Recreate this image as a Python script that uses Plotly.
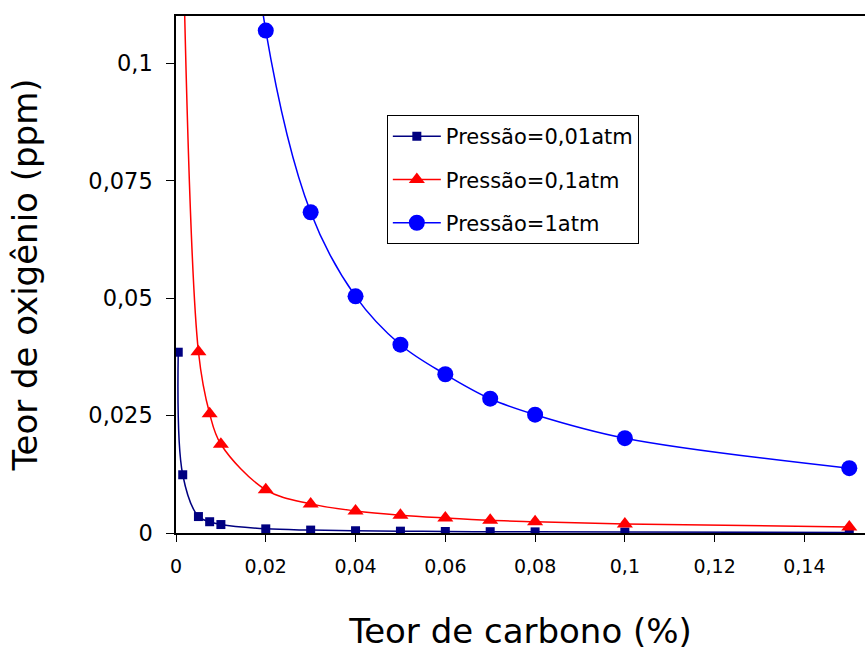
import plotly.graph_objects as go

# Data
carbon_001 = [0.0005, 0.0015, 0.005, 0.0075, 0.01, 0.02, 0.03, 0.04, 0.05, 0.06, 0.07, 0.08, 0.1, 0.15]
oxy_001 = [0.0385, 0.0124, 0.0035, 0.0024, 0.0018, 0.00088, 0.00062, 0.00048, 0.00039, 0.00032, 0.00028, 0.00024, 0.00019, 0.00013]

carbon_01 = [0.0015, 0.005, 0.0075, 0.01, 0.02, 0.03, 0.04, 0.05, 0.06, 0.07, 0.08, 0.1, 0.15]
oxy_01 = [0.129, 0.0386, 0.0254, 0.0189, 0.0092, 0.0062, 0.0047, 0.0038, 0.0032, 0.0027, 0.0024, 0.0019, 0.0013]

carbon_1 = [0.01, 0.02, 0.03, 0.04, 0.05, 0.06, 0.07, 0.08, 0.1, 0.15]
oxy_1 = [0.204, 0.107, 0.0683, 0.0504, 0.0401, 0.0338, 0.0286, 0.0252, 0.0202, 0.0138]

series_names = ["Pressão=0,01atm", "Pressão=0,1atm", "Pressão=1atm"]

x_tickvals = [0, 0.02, 0.04, 0.06, 0.08, 0.1, 0.12, 0.14]
x_ticktext = ["0", "0,02", "0,04", "0,06", "0,08", "0,1", "0,12", "0,14"]
y_tickvals = [0, 0.025, 0.05, 0.075, 0.1]
y_ticktext = ["0", "0,025", "0,05", "0,075", "0,1"]

FONT = "DejaVu Sans"

fig = go.Figure()
fig.add_trace(go.Scatter(
    x=carbon_001, y=oxy_001, name=series_names[0], mode="lines+markers",
    line=dict(color="#000080", width=1.5, shape="spline", smoothing=1),
    marker=dict(symbol="square", size=9, color="#000080"),
    legendgroup="a"))
fig.add_trace(go.Scatter(
    x=carbon_01, y=oxy_01, name=series_names[1], mode="lines+markers",
    line=dict(color="#FF0000", width=1.5, shape="spline", smoothing=1),
    marker=dict(symbol="triangle-up", size=14, color="#FF0000"),
    legendgroup="b"))
fig.add_trace(go.Scatter(
    x=carbon_1, y=oxy_1, name=series_names[2], mode="lines+markers",
    line=dict(color="#0000FF", width=1.5, shape="spline", smoothing=1),
    marker=dict(symbol="circle", size=16, color="#0000FF"),
    legendgroup="c"))

fig.update_layout(
    width=865, height=652,
    margin=dict(l=176, r=0, t=16, b=119),
    paper_bgcolor="white", plot_bgcolor="white",
    font=dict(family=FONT, color="black"),
    showlegend=True,
    legend=dict(
        x=0.306, y=0.8085, xanchor="left", yanchor="top",
        bgcolor="white", bordercolor="black", borderwidth=1,
        font=dict(family=FONT, size=21, color="black"),
        traceorder="grouped", tracegroupgap=13, itemwidth=48,
    ),
    xaxis=dict(
        range=[0, 0.1535], tickvals=x_tickvals, ticktext=x_ticktext,
        showgrid=False, zeroline=False,
        showline=True, linecolor="black", linewidth=1.5, mirror=True,
        ticks="outside", ticklen=7, tickcolor="black", tickwidth=1,
        ticklabelstandoff=8,
        tickfont=dict(family=FONT, size=19, color="black"),
        title=dict(text="Teor de carbono (%)", font=dict(family=FONT, size=34, color="black"), standoff=44),
    ),
    yaxis=dict(
        range=[0, 0.1101], tickvals=y_tickvals, ticktext=y_ticktext,
        showgrid=False, zeroline=False,
        showline=True, linecolor="black", linewidth=1.5,
        ticks="outside", ticklen=8, tickcolor="black", tickwidth=1,
        ticklabelstandoff=9,
        tickfont=dict(family=FONT, size=22.5, color="black"),
        title=dict(text="Teor de oxigênio (ppm)", font=dict(family=FONT, size=34, color="black"), standoff=40),
    ),
)

fig.write_html("out.html", config={"displayModeBar": False},
               post_script="document.body.style.margin='0';document.body.style.padding='0';")
